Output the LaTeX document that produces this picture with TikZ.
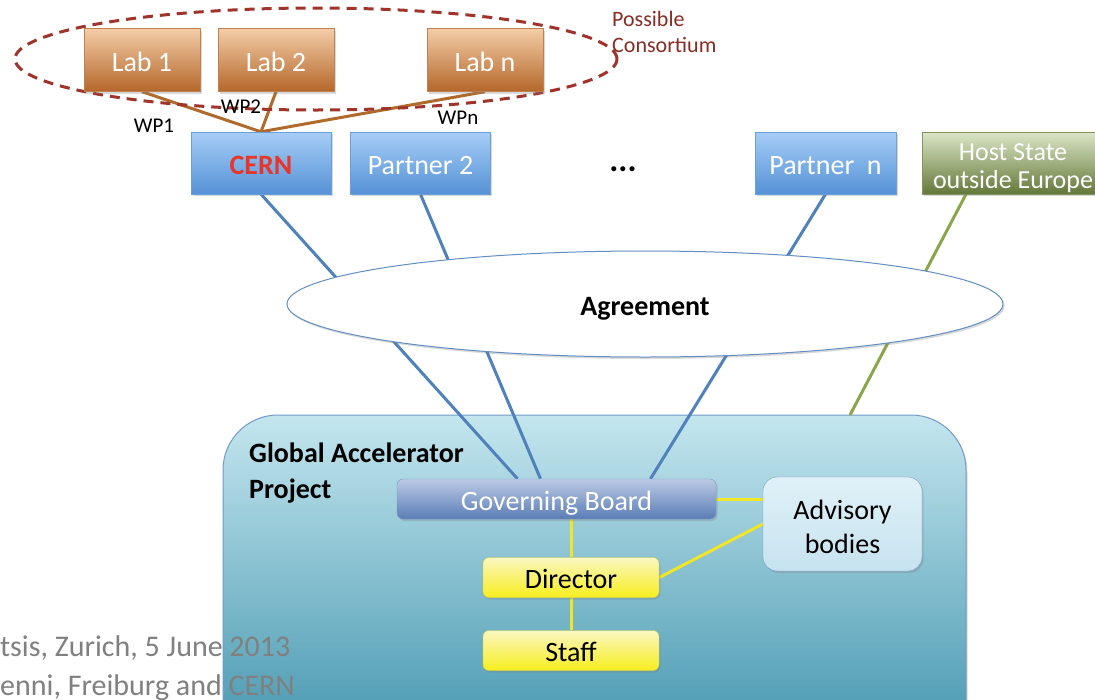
\documentclass[tikz,border=0pt]{standalone}
\usepackage{fontspec}
\setmainfont{Carlito}
\usetikzlibrary{shapes.geometric,shadows}
\pgfdeclarelayer{back}
\pgfdeclarelayer{edges}
\pgfsetlayers{back,edges,main}
\definecolor{labtop}{HTML}{F4CDA8}
\definecolor{labbot}{HTML}{B4672A}
\definecolor{labedge}{HTML}{C08050}
\definecolor{ptop}{HTML}{A6CDF6}
\definecolor{pbot}{HTML}{5592D6}
\definecolor{pedge}{HTML}{6C9FD8}
\definecolor{hosttop}{HTML}{DCE6C6}
\definecolor{hostbot}{HTML}{64783A}
\definecolor{gbtop}{HTML}{BCCAE4}
\definecolor{gbbot}{HTML}{5A7DB6}
\definecolor{yeltop}{HTML}{F9F7C0}
\definecolor{yelbot}{HTML}{F8EE1E}
\definecolor{gaptop}{HTML}{C4E6EE}
\definecolor{gapbot}{HTML}{3E92AC}
\definecolor{advtop}{HTML}{E0F1F8}
\definecolor{advbot}{HTML}{C6E3EF}
\definecolor{bluewire}{HTML}{4F81BD}
\definecolor{brownwire}{HTML}{B06A2C}
\definecolor{greenwire}{HTML}{8AA64A}
\definecolor{yelwire}{HTML}{F2E526}
\definecolor{consort}{HTML}{A0342A}
\definecolor{cernred}{HTML}{E8352A}

\begin{document}
\begin{tikzpicture}[x=1pt,y=-1pt,
  shade/.style={drop shadow={shadow xshift=1.5pt,shadow yshift=-2pt,opacity=0.3}},
  oneline/.style={text height=22pt,text depth=0pt},
  frame/.style={shade,rectangle,inner sep=0pt,minimum height=62pt,text=white,
    font=\fontsize{28}{30}\selectfont},
  box/.style={frame,oneline},
  lab/.style={box,minimum width=116pt,minimum height=63pt,draw=labedge,
    top color=labtop,bottom color=labbot},
  partner/.style={box,minimum width=140pt,draw=pedge,top color=ptop,bottom color=pbot},
  hostbox/.style={frame,minimum width=182pt,draw=hostbot!80,top color=hosttop,
    bottom color=hostbot,align=center,font=\fontsize{26}{28}\selectfont},
  board/.style={box,minimum width=319pt,minimum height=40pt,rounded corners=6pt,
    draw=gbbot!80,top color=gbtop,bottom color=gbbot},
  officer/.style={box,minimum width=176pt,minimum height=40pt,rounded corners=6pt,
    draw=yelbot!70!gray,top color=yeltop,bottom color=yelbot,text=black},
  wire/.style={line width=3pt},
  wp/.style={font=\fontsize{21}{22}\selectfont,inner sep=0pt},
]
\useasboundingbox (0,0) rectangle (1095,699);

% project frame
\begin{pgfonlayer}{back}
\draw[draw=bluewire!80,line width=1pt,top color=gaptop,bottom color=gapbot,
  rounded corners=55pt,shade] (223,415) rectangle (966,760);
\end{pgfonlayer}
\coordinate (gapedge) at (850,415);

\node[ellipse,draw=consort,line width=3pt,dash pattern=on 10pt off 7pt,
  minimum width=602pt,minimum height=102pt,inner sep=0pt] (consortium) at (316,59) {};
\node[anchor=west,inner sep=0pt,align=left,text=consort!85!black,
  font=\fontsize{22}{26}\selectfont] (consortlabel) at (612,32) {Possible\\Consortium};

\node[lab] (lab1) at (142,60) {Lab 1};
\node[lab] (lab2) at (276,60) {Lab 2};
\node[lab] (labn) at (485,60) {Lab n};
\node[wp] (wp1) at (154,126) {WP1};
\node[wp] (wp2) at (241,107) {WP2};
\node[wp] (wpn) at (458,118) {WPn};

\node[partner,text=cernred,font=\fontsize{28}{30}\selectfont\bfseries] (cern) at (261,163) {CERN};
\node[partner] (partner2) at (420.5,163) {Partner 2};
\node[anchor=base,inner sep=0pt,font=\fontsize{34}{36}\selectfont\bfseries] (dots) at (623,171) {...};
\node[partner,minimum width=141pt] (partnern) at (825.5,163) {Partner~~n};
\node[hostbox] (host) at (1013,163) {\rule{0pt}{28pt}Host State\\outside Europe};

\node[ellipse,shade,oneline,draw=bluewire!90,line width=1pt,fill=white,minimum width=716pt,
  minimum height=106pt,font=\fontsize{28}{30}\selectfont\bfseries] (agreement) at (645,304) {Agreement};

\node[anchor=north west,inner sep=0pt,align=left,font=\fontsize{28}{36}\selectfont\bfseries]
  (gaptitle) at (249,443) {Global Accelerator\\Project};
\node[board] (gb) at (556.5,499) {Governing Board};
\node[shade,rectangle,rounded corners=14pt,draw=bluewire!80,top color=advtop,bottom color=advbot,
  minimum width=159pt,minimum height=94pt,align=center,
  font=\fontsize{28}{34}\selectfont] (adv) at (842.5,524) {\rule{0pt}{26pt}Advisory\\bodies};
\node[officer] (director) at (571,577.5) {Director};
\node[officer] (staff) at (571,650.5) {Staff};

\node[anchor=west,inner sep=0pt,text=gray,font=\fontsize{30}{32}\selectfont] (foot1) at (0,648) {tsis, Zurich, 5 June 2013};
\node[anchor=west,inner sep=0pt,text=gray,font=\fontsize{30}{32}\selectfont] (foot2) at (0,688) {enni, Freiburg and CERN};

\begin{pgfonlayer}{edges}
\draw[wire,brownwire] (lab1.south) -- (cern.north);
\draw[wire,brownwire] (lab2.south) -- (cern.north);
\draw[wire,brownwire] (labn.south) -- (cern.north);
\draw[wire,bluewire] (cern.south) -- ([xshift=-39pt]gb.north);
\draw[wire,bluewire] (partner2.south) -- ([xshift=-16pt]gb.north);
\draw[wire,bluewire] (partnern.south) -- ([xshift=94pt]gb.north);
\draw[wire,greenwire] ([xshift=-47pt]host.south) -- (gapedge);
\draw[wire,yelwire] (gb.east) -- (gb.east -| adv.west);
\draw[wire,yelwire] (director.east) -- (adv.west);
\draw[wire,yelwire] (director.north) -- (director.north |- gb.south);
\draw[wire,yelwire] (director.south) -- (staff.north);
\end{pgfonlayer}
\end{tikzpicture}
\end{document}
